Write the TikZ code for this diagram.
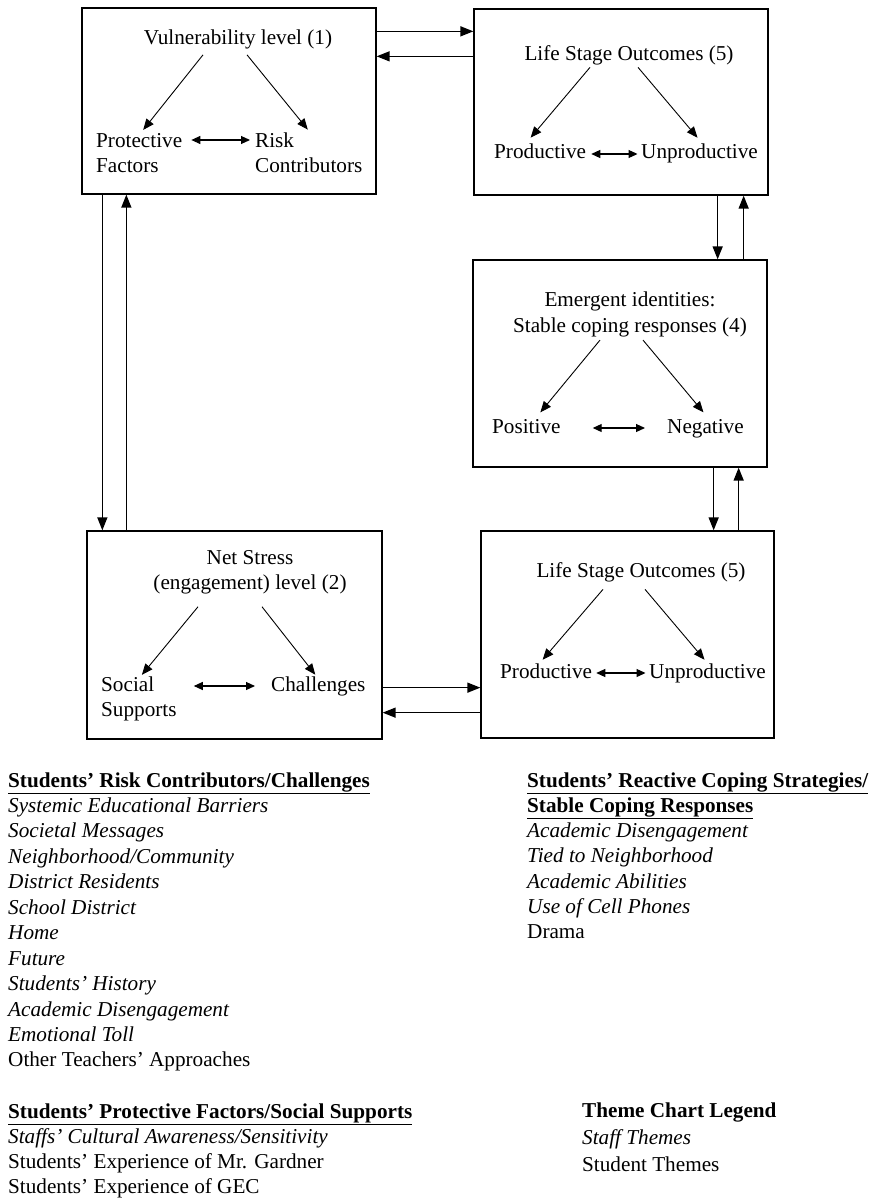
\documentclass[tikz,border=0pt]{standalone}
\usepackage{fontspec}
\setmainfont{Liberation Serif}
\usetikzlibrary{arrows.meta}
\newcommand\chartfont{\fontsize{21.2}{25.5}\selectfont}

\begin{document}
\begin{tikzpicture}[x=1pt,y=-1pt,
  every node/.append style={font=\chartfont},
  frame/.style={draw, line width=1.3pt, inner sep=0pt},
  lbl/.style={inner sep=0pt},
  item/.style={inner sep=0pt, anchor=base west},
  flow/.style={-{Triangle[length=13pt,width=10pt]}, line width=1.5pt},
  sub/.style={-{Triangle[length=11pt,width=9pt]}, line width=0.9pt},
  both/.style={{Triangle[length=9pt,width=8pt]}-{Triangle[length=9pt,width=8pt]}, line width=1.1pt}]
\useasboundingbox (0,0) rectangle (869,1198);

\node[frame, minimum width=294pt, minimum height=186pt] (vb) at (229,101) {};
\node[frame, minimum width=294pt, minimum height=186pt] (ob) at (621,102) {};
\node[frame, minimum width=294pt, minimum height=207pt] (eb) at (620,363.5) {};
\node[frame, minimum width=293pt, minimum height=207pt] (lb) at (627.5,634.5) {};
\node[frame, minimum width=295pt, minimum height=208pt] (sb) at (234.5,635) {};

\node[lbl] (vt) at (238,39) {Vulnerability level (1)};
\node[lbl, align=left, anchor=west] (vp) at (96,153) {Protective\\Factors};
\node[lbl, align=left, anchor=west] (vr) at (255,153) {Risk\\Contributors};
\draw[sub] ([xshift=-35pt,yshift=-6pt]vt.south) -- ([xshift=4pt,yshift=3pt]vp.north);
\draw[sub] ([xshift=9pt,yshift=-6pt]vt.south) -- ([xshift=-1pt,yshift=3pt]vr.north);
\draw[both] ([xshift=9pt,yshift=13pt]vp.east) -- ([xshift=-5pt,yshift=13pt]vr.west);

\node[lbl] (ot) at (629,55) {Life Stage Outcomes (5)};
\node[lbl, anchor=base west] (op) at (494,159) {Productive};
\node[lbl, anchor=base east] (ou) at (758,159) {Unproductive};
\draw[sub] ([xshift=-39pt,yshift=-2.4pt]ot.south) -- ([xshift=-9.5pt,yshift=6.4pt]op.north);
\draw[sub] ([xshift=9pt,yshift=-2.4pt]ot.south) -- ([xshift=-2pt,yshift=6.4pt]ou.north);
\draw[both] ([xshift=5pt,yshift=5pt]op.base east) -- ([xshift=-3.5pt,yshift=5pt]ou.base west);

\node[lbl, align=center] (et) at (630,314.5) {Emergent identities:\\Stable coping responses (4)};
\node[lbl, anchor=base west] (ep) at (492,433) {Positive};
\node[lbl, anchor=base west] (en) at (667,433) {Negative};
\draw[sub] ([xshift=-30pt,yshift=-3pt]et.south) -- ([xshift=14pt,yshift=6.4pt]ep.north);
\draw[sub] ([xshift=13pt,yshift=-3pt]et.south) -- ([xshift=-2pt,yshift=6.4pt]en.north);
\draw[both] ([xshift=32pt,yshift=5pt]ep.base east) -- ([xshift=-22pt,yshift=5pt]en.base west);

\node[lbl] (lt) at (641,572) {Life Stage Outcomes (5)};
\node[lbl, anchor=base west] (lp) at (500,678) {Productive};
\node[lbl, anchor=base east] (lu) at (766,678) {Unproductive};
\draw[sub] ([xshift=-38pt,yshift=-7.4pt]lt.south) -- ([xshift=-3.5pt,yshift=3.4pt]lp.north);
\draw[sub] ([xshift=4pt,yshift=-7.4pt]lt.south) -- ([xshift=-3pt,yshift=3.4pt]lu.north);
\draw[both] ([xshift=4pt,yshift=5pt]lp.base east) -- ([xshift=-3.5pt,yshift=5pt]lu.base west);

\node[lbl, align=center] (st) at (250,572.5) {Net Stress\\(engagement) level (2)};
\node[lbl, align=left, anchor=west] (ss) at (101,699) {Social\\Supports};
\node[lbl, anchor=base west] (sc) at (271,691) {Challenges};
\draw[sub] ([xshift=-52pt,yshift=-12pt]st.south) -- ([xshift=3pt,yshift=1.6pt]ss.north);
\draw[sub] ([xshift=12pt,yshift=-12pt]st.south) -- ([xshift=-3pt,yshift=1.4pt]sc.north);
\draw[both] ([xshift=17pt,yshift=13pt]ss.east) -- ([xshift=-16pt,yshift=5pt]sc.base west);

\draw[flow] ([yshift=-24pt]vb.north east) -- ([yshift=-23pt]ob.north west);
\draw[flow] ([yshift=-48pt]ob.north west) -- ([yshift=-49pt]vb.north east);
\draw[flow] ([xshift=-51pt]ob.south east) -- ([xshift=-50pt]eb.north east);
\draw[flow] ([xshift=-24pt]eb.north east) -- ([xshift=-25pt]ob.south east);
\draw[flow] ([xshift=-54pt]eb.south east) -- ([xshift=-61pt]lb.north east);
\draw[flow] ([xshift=-36pt]lb.north east) -- ([xshift=-29pt]eb.south east);
\draw[flow] ([xshift=21pt]vb.south west) -- ([xshift=16pt]sb.north west);
\draw[flow] ([xshift=40pt]sb.north west) -- ([xshift=45pt]vb.south west);
\draw[flow] ([yshift=52pt]sb.south east) -- ([yshift=51pt]lb.south west);
\draw[flow] ([yshift=26pt]lb.south west) -- ([yshift=27pt]sb.south east);

\foreach \txt [count=\k from 0] in {{\bfseries\underline{Students' Risk Contributors/Challenges}},
  {\itshape Systemic Educational Barriers}, {\itshape Societal Messages},
  {\itshape Neighborhood/Community}, {\itshape District Residents},
  {\itshape School District}, {\itshape Home}, {\itshape Future},
  {\itshape Students' History}, {\itshape Academic Disengagement},
  {\itshape Emotional Toll}, {Other Teachers' Approaches}}
  \node[item] (risk\k) at (8,{787+25.45*\k}) {\txt};

\foreach \txt [count=\k from 0] in {{\bfseries\underline{Students' Protective Factors/Social Supports}},
  {\itshape Staffs' Cultural Awareness/Sensitivity},
  {Students' Experience of Mr. Gardner}, {Students' Experience of GEC}}
  \node[item] (prot\k) at (8,{1118+25*\k}) {\txt};

\foreach \txt [count=\k from 0] in {{\bfseries\underline{Students' Reactive Coping Strategies/}},
  {\bfseries\underline{Stable Coping Responses}},
  {\itshape Academic Disengagement}, {\itshape Tied to Neighborhood},
  {\itshape Academic Abilities}, {\itshape Use of Cell Phones}, {Drama}}
  \node[item] (cope\k) at (527,{787+25.3*\k}) {\txt};

\foreach \txt [count=\k from 0] in {{\bfseries Theme Chart Legend},
  {\itshape Staff Themes}, {Student Themes}}
  \node[item] (lgd\k) at (582,{1117+27*\k}) {\txt};
\end{tikzpicture}
\end{document}
